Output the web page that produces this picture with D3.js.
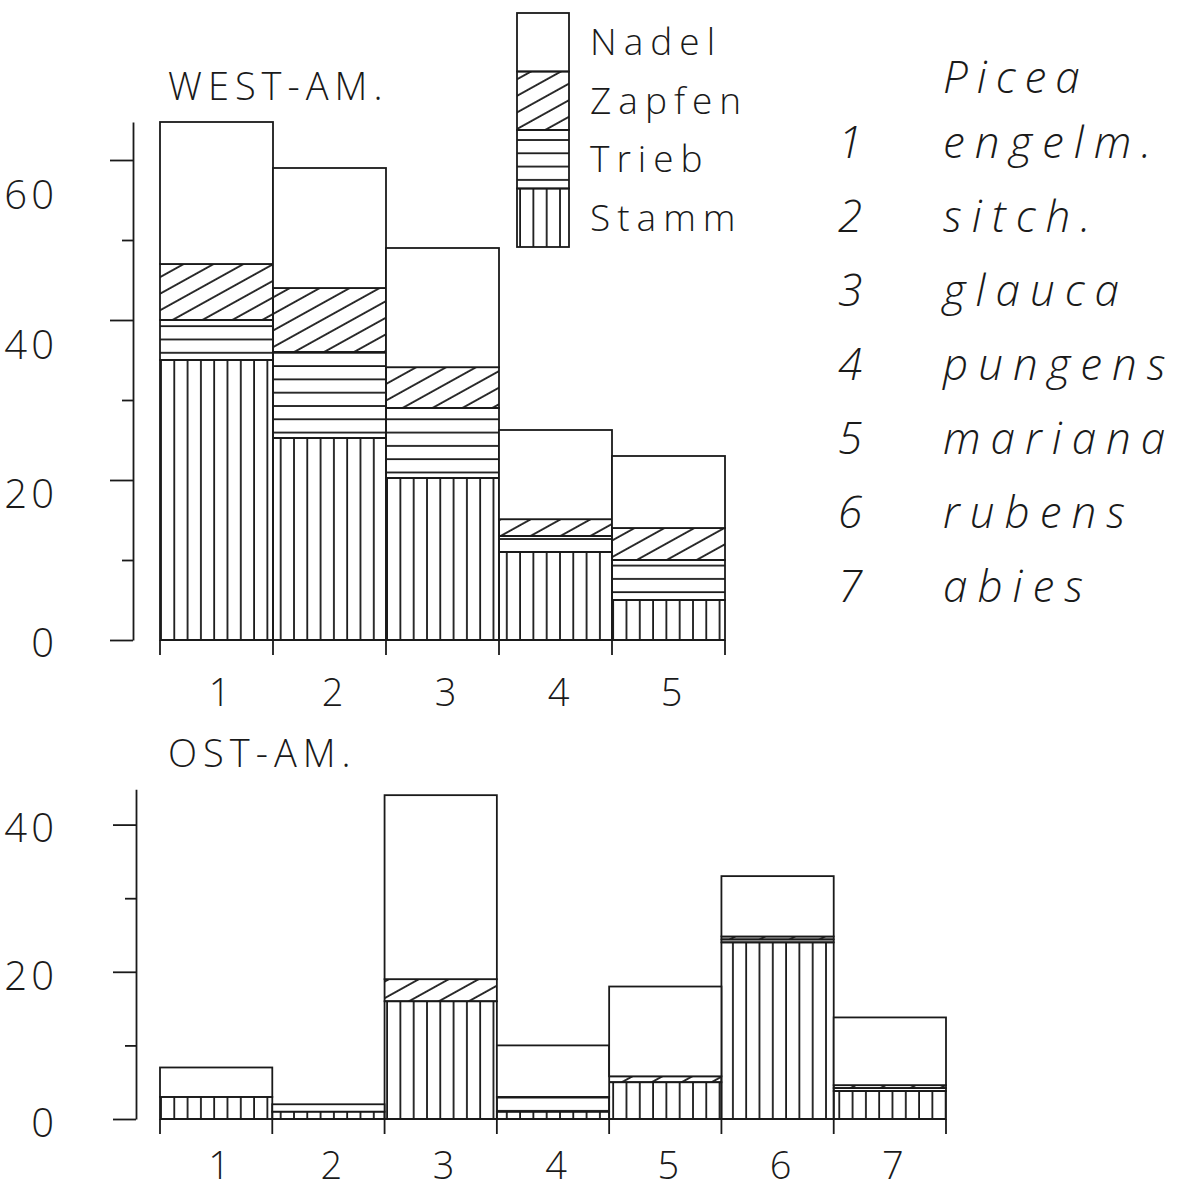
<!DOCTYPE html>
<html>
<head>
<meta charset="utf-8">
<script src="https://cdn.jsdelivr.net/npm/d3@7"></script>
<style>
  body { margin: 0; background: #fff; }
  svg { display: block; }
  text { font-family: 'Open Sans', 'DejaVu Sans', sans-serif; font-weight: 300; fill: #1a1a1a; }
  .axis path, .axis line { stroke: #1a1a1a; stroke-width: 1.8; }
</style>
</head>
<body>
<div id="chart"></div>
<script>
// stacked parts, from the bottom of each bar upwards
const parts = ['Stamm', 'Trieb', 'Zapfen', 'Nadel'];
const legendParts = ['Nadel', 'Zapfen', 'Trieb', 'Stamm'];

// WEST-AM. (species 1-5)
const westSpecies = ['1', '2', '3', '4', '5'];
const westStamm = [35, 25.25, 20.25, 11, 5];
const westTrieb = [5, 10.75, 8.75, 2, 5];
const westZapfen = [7, 8, 5.1, 2.1, 4];
const westNadel = [17.75, 15, 14.9, 11.15, 9];

// OST-AM. (species 1-7)
const ostSpecies = ['1', '2', '3', '4', '5', '6', '7'];
const ostStamm = [3, 1, 16, 1, 5, 24, 3.8];
const ostTrieb = [0, 0, 0, 2, 0, 0.4, 0.4];
const ostZapfen = [0, 0, 3, 0, 0.8, 0.4, 0.4];
const ostNadel = [4, 1, 25, 7, 12.2, 8.2, 9.2];

const westTicks = [0, 10, 20, 30, 40, 50, 60];
const westLabels = [0, 20, 40, 60];
const ostTicks = [0, 10, 20, 30, 40];
const ostLabels = [0, 20, 40];

const genus = 'Picea';
const speciesNames = ['engelm.', 'sitch.', 'glauca', 'pungens', 'mariana', 'rubens', 'abies'];

const width = 1186;
const height = 1189;

const svg = d3.select('#chart')
  .append('svg')
  .attr('width', width)
  .attr('height', height);

// hatch patterns, one per part
const defs = svg.append('defs');
const step = 13.3;
const ink = '#1a1a1a';

const stammPat = defs.append('pattern')
  .attr('id', 'pat-Stamm')
  .attr('patternUnits', 'userSpaceOnUse')
  .attr('x', 160)
  .attr('width', step)
  .attr('height', step);
stammPat.append('line')
  .attr('x1', 1).attr('x2', 1)
  .attr('y1', 0).attr('y2', step)
  .attr('stroke', ink).attr('stroke-width', 1.8);

const triebPat = defs.append('pattern')
  .attr('id', 'pat-Trieb')
  .attr('patternUnits', 'userSpaceOnUse')
  .attr('y', 6)
  .attr('width', step)
  .attr('height', step);
triebPat.append('line')
  .attr('x1', 0).attr('x2', step)
  .attr('y1', 1).attr('y2', 1)
  .attr('stroke', ink).attr('stroke-width', 1.8);

const zapfenPat = defs.append('pattern')
  .attr('id', 'pat-Zapfen')
  .attr('patternUnits', 'userSpaceOnUse')
  .attr('width', 20)
  .attr('height', 14.5)
  .attr('patternTransform', 'rotate(-29)');
zapfenPat.append('line')
  .attr('x1', 0).attr('x2', 20)
  .attr('y1', 1).attr('y2', 1)
  .attr('stroke', ink).attr('stroke-width', 1.8);

const fillFor = key => (key === 'Nadel' ? '#fff' : `url(#pat-${key})`);

function drawPanel(cfg) {
  const rows = cfg.species.map((s, i) => ({
    species: s,
    Stamm: cfg.stamm[i],
    Trieb: cfg.trieb[i],
    Zapfen: cfg.zapfen[i],
    Nadel: cfg.nadel[i],
  }));
  const series = d3.stack().keys(parts)(rows);

  const x = d3.scaleBand()
    .domain(cfg.species)
    .range(cfg.xRange)
    .padding(0);

  const y = d3.scaleLinear()
    .domain([0, cfg.yMax])
    .range([cfg.y0, cfg.y0 - cfg.yMax * cfg.pxPerUnit]);

  // bars
  const g = svg.append('g');
  series.forEach(layer => {
    g.selectAll(null)
      .data(layer.filter(d => d[1] - d[0] > 0))
      .enter()
      .append('rect')
      .attr('x', d => x(d.data.species))
      .attr('width', x.bandwidth())
      .attr('y', d => y(d[1]))
      .attr('height', d => y(d[0]) - y(d[1]))
      .attr('fill', fillFor(layer.key))
      .attr('stroke', ink)
      .attr('stroke-width', 1.8);
  });

  // y axis: long ticks where labelled, short ticks otherwise
  const yAxis = svg.append('g')
    .attr('class', 'axis')
    .attr('transform', `translate(${cfg.axisX},0)`)
    .call(d3.axisLeft(y).tickValues(cfg.ticks).tickSizeOuter(0).tickFormat(''));
  yAxis.selectAll('.tick line')
    .attr('x2', d => (cfg.labels.includes(d) ? -23 : -11));

  const labelY = d3.scaleLinear().domain(cfg.labelDomain).range(cfg.labelRange);
  svg.append('g')
    .selectAll('text')
    .data(cfg.labels)
    .enter()
    .append('text')
    .attr('x', 58)
    .attr('y', d => labelY(d))
    .attr('dy', '0.36em')
    .attr('text-anchor', 'end')
    .style('font-size', '40px')
    .style('letter-spacing', '4px')
    .text(d => d);

  // x axis: baseline with ticks at the bar edges
  const edges = cfg.species.map(s => x(s)).concat([cfg.xRange[1]]);
  const xg = svg.append('g').attr('class', 'axis');
  xg.append('line')
    .attr('x1', cfg.xRange[0]).attr('x2', cfg.xRange[1])
    .attr('y1', y(0)).attr('y2', y(0));
  xg.selectAll('.edge')
    .data(edges)
    .enter()
    .append('line')
    .attr('class', 'edge')
    .attr('x1', d => d).attr('x2', d => d)
    .attr('y1', y(0)).attr('y2', y(0) + 15);

  svg.append('g')
    .selectAll('text')
    .data(cfg.species)
    .enter()
    .append('text')
    .attr('x', d => x(d) + x.bandwidth() / 2 + 3)
    .attr('y', y(0) + cfg.xLabelOffset)
    .attr('text-anchor', 'middle')
    .style('font-size', '38px')
    .text(d => d);

  svg.append('text')
    .attr('x', 168)
    .attr('y', cfg.titleY)
    .style('font-size', '38px')
    .style('letter-spacing', '6px')
    .text(cfg.title);
}

drawPanel({
  title: 'WEST-AM.',
  titleY: 100,
  species: westSpecies,
  stamm: westStamm,
  trieb: westTrieb,
  zapfen: westZapfen,
  nadel: westNadel,
  xRange: [160, 725],
  y0: 640,
  pxPerUnit: 8,
  yMax: d3.max(westSpecies.map((s, i) => westStamm[i] + westTrieb[i] + westZapfen[i] + westNadel[i])),
  axisX: 133,
  ticks: westTicks,
  labels: westLabels,
  labelDomain: [0, 60],
  labelRange: [643, 195],
  xLabelOffset: 66,
});

drawPanel({
  title: 'OST-AM.',
  titleY: 767,
  species: ostSpecies,
  stamm: ostStamm,
  trieb: ostTrieb,
  zapfen: ostZapfen,
  nadel: ostNadel,
  xRange: [160, 946],
  y0: 1119,
  pxPerUnit: 7.36,
  yMax: 44.8,
  axisX: 136,
  ticks: ostTicks,
  labels: ostLabels,
  labelDomain: [0, 40],
  labelRange: [1123, 828],
  xLabelOffset: 60,
});

// legend of the parts
const legendY = d3.scaleBand().domain(legendParts).range([13, 247]);
const legend = svg.append('g');
legend.selectAll('rect')
  .data(legendParts)
  .enter()
  .append('rect')
  .attr('x', 517)
  .attr('y', d => legendY(d))
  .attr('width', 52)
  .attr('height', legendY.bandwidth())
  .attr('fill', d => fillFor(d))
  .attr('stroke', ink)
  .attr('stroke-width', 1.8);
legend.selectAll('text')
  .data(legendParts)
  .enter()
  .append('text')
  .attr('x', 590)
  .attr('y', d => legendY(d) + legendY.bandwidth() / 2 + 13)
  .style('font-size', '37px')
  .style('letter-spacing', '7px')
  .text(d => d);

// species key
const rowY = d3.scaleLinear().domain([1, speciesNames.length]).range([158, 602]);
const key = svg.append('g').style('font-style', 'italic');
key.append('text')
  .attr('x', 943)
  .attr('y', 93)
  .style('font-size', '44px')
  .style('letter-spacing', '9px')
  .text(genus);
key.selectAll('.num')
  .data(speciesNames)
  .enter()
  .append('text')
  .attr('class', 'num')
  .attr('x', 838)
  .attr('y', (d, i) => rowY(i + 1))
  .style('font-size', '44px')
  .text((d, i) => i + 1);
key.selectAll('.name')
  .data(speciesNames)
  .enter()
  .append('text')
  .attr('class', 'name')
  .attr('x', 943)
  .attr('y', (d, i) => rowY(i + 1))
  .style('font-size', '44px')
  .style('letter-spacing', '10px')
  .text(d => d);
</script>
</body>
</html>
